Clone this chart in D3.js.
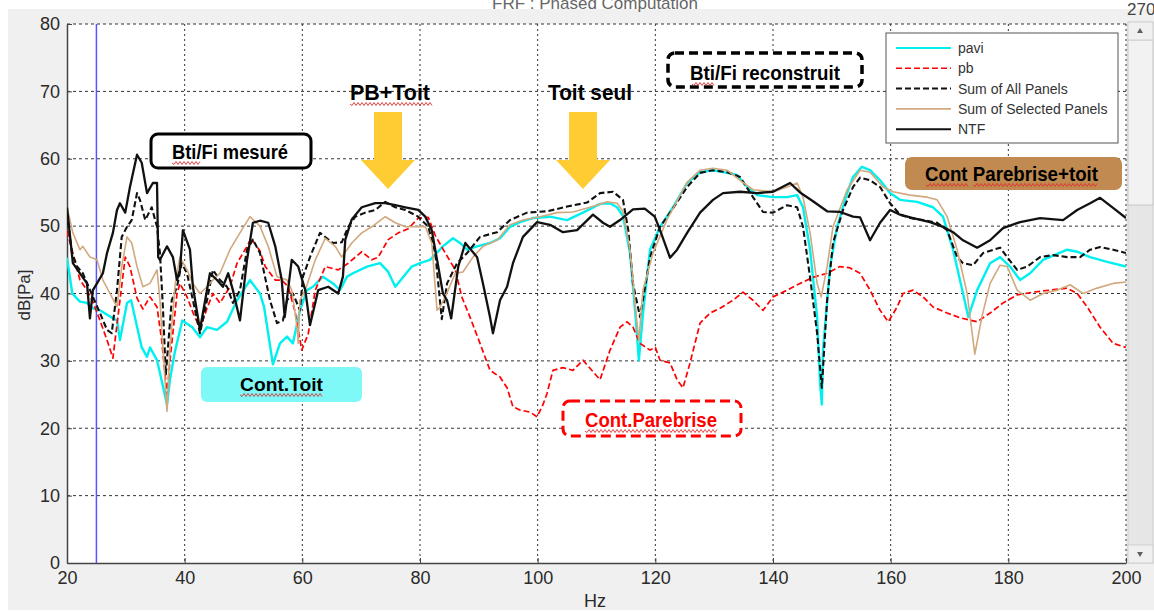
<!DOCTYPE html>
<html>
<head>
<meta charset="utf-8">
<script src="https://cdn.jsdelivr.net/npm/d3@7"></script>
<style>
  body { margin: 0; background: #fff; }
  svg { display: block; font-family: "Liberation Sans", Arial, sans-serif; }
</style>
</head>
<body>
<script>
// values, [Hz, dB]
const pavi = [[20,45.3],[20.9,40],[22.2,38.8],[23.4,38.6],[24.4,37.8],[25.6,37.5],[27.3,36.6],[28.5,36],[29,33.1],[30.2,38.6],[30.9,39],[32.7,32],[33.6,30.6],[34.1,32],[35.3,30.1],[35.8,28.2],[37,23.5],[37.5,27.2],[38.3,31.2],[39.6,36],[41.3,35],[42.6,33.5],[43.8,35],[45.5,34.6],[47.2,35.8],[48.9,39],[51.1,42],[52.8,40],[53.5,38],[55,29.5],[56.2,32.6],[57.4,33.6],[58.4,32.6],[59.6,37.5],[60.8,40.5],[61.8,41],[63.5,42.5],[65.2,41.5],[66.4,40.5],[67.6,42.5],[68.6,43],[71,44],[73.2,44.5],[74.6,43.2],[75.8,41],[77,42.3],[78.6,44],[80,44.5],[81.7,45],[83.9,47],[85.6,48.2],[86.8,47.5],[88,46.5],[89.7,47],[91.9,47.5],[93.6,48.2],[95.3,49.9],[97,50.6],[99.2,51.2],[102.1,51.4],[105,50.9],[107.7,52],[110.6,53.3],[112.3,53.4],[113.5,52.8],[114.5,51.5],[115.7,46],[116.6,37],[117.2,30.1],[117.9,37],[119.1,46.5],[120.8,49.9],[123,52.8],[125.4,56.4],[127.6,58],[129.8,58.3],[132.2,57.9],[133.9,57.6],[135.6,55.8],[137.3,54.6],[140,54.3],[142.4,54.3],[144.1,54.6],[145.1,52.8],[146.3,46.5],[147.5,36.5],[148,26.7],[148.3,23.5],[148.5,31.6],[149.7,44],[150.9,49.9],[152.6,54.9],[153.6,57.3],[155.1,58.8],[156.5,58.3],[158.2,56.8],[159.9,54.9],[161.6,53.9],[164.5,53.6],[167.2,52.8],[168.9,51.4],[170.6,46.5],[172.3,40],[173.2,36.5],[174.7,40.5],[176.9,44.5],[178.6,45.4],[180.3,44],[182,42],[183.7,43],[185.9,45],[190,46.5],[191.7,46.2],[193.9,45.4],[196.8,44.7],[200,44]];

const pb = [[20,49.3],[21,46],[22.2,42],[23.4,40.5],[24.4,38.8],[25.6,36],[26.8,33.1],[27.8,30.4],[29,39],[29.9,45.4],[30.7,44],[31.9,39.3],[32.9,37.7],[34.1,39.5],[35.3,38],[36.1,33],[37,25],[37.5,30],[38.7,40],[39.2,41.5],[40.4,39.5],[41.4,37.2],[42.6,34.8],[43.8,37.8],[44.8,40],[46,38.6],[47.7,41],[48.9,44.5],[50.6,47],[51.3,48.2],[52.8,46.3],[53.7,44],[55.4,42],[56.5,42],[57.6,41],[58.8,37.2],[59.9,31.6],[61,34],[62.2,40.5],[63.9,44],[66.1,43.5],[67.8,44.5],[70.1,46.2],[71.8,45],[72.9,45.4],[74.6,48],[76.3,49],[78,49.6],[79.7,51.2],[81.4,51.3],[82.6,48.6],[84.3,46],[86,43.5],[87.1,39.5],[88.5,36.5],[90.2,32.6],[91.9,28.6],[93.6,27.6],[94.8,26],[95.8,23.2],[97,22.7],[98.7,22.4],[99.9,21.7],[100.9,23.5],[101.6,25.2],[102.6,28.6],[104.3,29],[106,28.6],[107.7,30.1],[109.2,28.6],[110.6,27.2],[112.3,31.6],[114,35],[115.2,35.8],[116.2,35],[117.4,32.6],[119.1,31.6],[120,32],[120.8,30.1],[122.5,29.7],[123.7,27.2],[124.7,26],[125.9,29.7],[127.6,35.6],[129.3,37.1],[131,37.8],[133.2,39],[134.9,40.2],[136.6,39],[138.3,37.5],[140,39.5],[142.4,40.5],[144.6,41.5],[146.8,42.4],[149.2,43],[151.4,44],[153.1,43.8],[154.8,43],[156.5,40.5],[158.2,37.5],[159.6,35.8],[161.1,38],[162.1,40],[163.8,40.5],[165.5,39.5],[167.2,38],[169.6,37.1],[171.8,36.4],[174.7,35.8],[176.9,37.1],[179.1,38.6],[181.5,39.8],[184.2,40.2],[187.1,40.5],[190,40.8],[191.7,40],[193.4,38],[195.6,35],[197.8,32.6],[200,32]];

const sumAll = [[20,52],[20.85,46],[21.7,44],[22.7,43],[24.4,39.5],[25.6,37.1],[26.8,34.6],[27.6,34.1],[28.5,40.5],[29.3,48.4],[30.2,49.9],[31,50.9],[31.9,54.9],[32.4,53.9],[33.3,50.9],[34.4,52.8],[35.3,49.9],[35.8,46],[36.3,38],[36.8,28],[37.8,39],[38.7,41],[39.5,44.5],[40.4,43],[41.4,39],[42.6,34.1],[43.8,39],[44.8,43.5],[46,42],[47.2,41],[48.2,38.6],[49.4,40.5],[50.6,46.5],[51.6,48],[52.8,46],[54.5,39],[55.7,35.6],[56.7,36],[57.4,39],[58.4,40],[59.6,37.5],[60.1,42.5],[61.3,45.4],[63,49],[65.2,47.5],[66.7,47.6],[67.8,49.9],[69,51.4],[70.7,52],[72.4,52.4],[74.1,53.6],[75.8,52.8],[77.5,52.4],[79.7,51.4],[81.4,49.9],[82.6,46],[83.7,36.2],[84.6,41.5],[86.3,44.5],[88,46],[90.2,48.4],[93.1,49.1],[95.3,50.9],[98.2,52],[101.6,52.2],[105,52.9],[108.4,53.5],[110.6,54.9],[112.8,55.1],[114.5,53.9],[115.4,49.4],[116.2,41.5],[117.4,36.5],[119.1,45.4],[120.8,49.9],[122.5,52],[125.4,55.8],[127.6,57.9],[129.8,58.3],[132.2,58],[134.4,57.3],[136.6,54.3],[138.3,52.1],[140,52],[142.4,53.1],[144.1,52.8],[145.1,49.9],[146.3,42.4],[147.5,34.1],[148.3,26],[149.2,39],[150.2,47.5],[151.9,52.4],[153.6,55.8],[154.8,57.2],[156.5,56.8],[158.2,55.8],[159.9,53.4],[161.6,51.7],[163.3,51.2],[165.5,50.9],[167.9,50.5],[169.6,49.4],[171.3,45.4],[172.3,44.5],[174,44.2],[175.7,46],[178.6,46.8],[179.8,45.4],[181.5,43.5],[183.2,44],[185.4,45.4],[187.6,45.7],[190,45.4],[192.2,45.4],[193.9,46.5],[195.6,46.9],[197.8,46.5],[200,46]];

const sumSelected = [[20,52.8],[21,49],[22.2,46.5],[22.7,47],[23.9,45.4],[25.1,45],[26.1,42],[27.3,40],[28.5,38],[29.3,44],[30.2,48.4],[31,47.5],[31.9,44],[32.9,41],[34.1,41.5],[35.3,43.5],[35.8,39],[36.3,32],[37,22.5],[37.5,32],[38.4,41.5],[39.2,45.4],[40.4,43.5],[41.4,41.5],[42.6,40],[43.8,41],[44.8,42],[46,43],[47.7,46.5],[49.4,49],[51.1,51.4],[52.8,50],[54.2,47],[55.7,42.5],[57.4,42],[58.2,40.5],[59.1,35],[59.3,32.6],[59.6,39],[60.5,40.5],[62.2,45],[63.9,48.2],[65.6,47],[66.7,45.4],[68.4,47.5],[70.1,49],[71.8,49.9],[74.1,51.4],[75.8,50.5],[77.5,49.9],[80.9,49.9],[82,47.5],[82.9,37.5],[83.4,38],[84.3,39.5],[86,43],[87.3,43.2],[89,45.4],[90.7,47],[93.1,47.9],[95.3,50.2],[97.5,50.9],[100.4,51.4],[103.3,52],[106,52.1],[108.9,52.8],[111.8,53.6],[113.5,53.4],[114.5,52.2],[115.7,46.5],[116.6,38],[117.2,33],[117.9,40.5],[119.6,46],[122,51],[125.4,56.5],[127.6,58.3],[129.8,58.6],[132.2,58.3],[134.4,56.8],[136.6,55.4],[140,55.1],[142.4,55.8],[144.1,56.4],[145.1,54.3],[146.3,49],[147.5,41.5],[148.2,39.5],[149.2,44],[150.2,49.9],[152.6,55.4],[154.8,58.3],[156.5,58],[158.7,55.8],[160.4,55.1],[163.3,54.6],[166.2,54.3],[167.9,53.9],[169.6,51.4],[171.3,46.5],[173,40],[174.3,31],[175.5,36.5],[176.9,41.5],[178.6,44.2],[179.8,44],[181.5,40.5],[183.7,39],[185.9,40],[188.3,40.5],[190.5,41.3],[192.7,40],[195.1,40.8],[197.8,41.5],[200,41.7]];

const ntf = [[20,52.8],[21,44.5],[22.2,43],[23.4,41.5],[23.9,36.3],[24.4,40.5],[25.1,41.5],[26.1,43],[26.8,46],[27.8,49],[28.5,52.4],[29,53.4],[29.9,52],[30.7,55.8],[31.9,60.6],[32.7,59.4],[33.6,54.9],[34.6,56.4],[35.3,56.4],[35.5,45.4],[35.8,45],[37,47],[38,45.4],[38.7,42],[39.2,43.5],[39.7,49.4],[40.9,46.5],[41.4,41],[42.6,34.6],[43.1,37.1],[44.3,43],[45.5,42],[46.5,41],[47.4,43],[48.2,40.5],[49.4,36],[50.6,45],[51.6,50.5],[52.8,50.8],[54.2,50.5],[55.4,47],[56.5,42],[57,36.5],[58.2,45],[59.3,44],[60.5,40.5],[61.3,35.3],[62.7,40.5],[64.4,41],[66.1,40],[66.9,42.5],[67.3,48],[68.4,51],[70.1,52.8],[72.4,53.4],[74.1,53.4],[75.8,53.1],[77.5,52.8],[79.7,52.4],[80.9,51.4],[82,49.4],[83.1,44],[83.9,40],[84.6,39],[85.3,36.3],[86.5,44],[87.7,47.5],[89.7,45.4],[90.7,41.5],[91.9,36.5],[92.4,34.1],[93.6,39],[94.8,41],[95.8,44.5],[97.5,48.4],[99.9,50.6],[102.1,50.2],[104.3,49.1],[106.7,49.4],[109.4,51.7],[111.1,50.5],[112.3,49.9],[114,50.9],[116.2,52.5],[118.2,52.6],[119.9,51.4],[120.8,49.4],[122,46.5],[122.5,45.3],[123.7,46.5],[125.4,49],[127.6,52],[129.8,53.9],[131.5,54.9],[134.4,55.1],[137.3,54.9],[140,55.1],[142.9,56.4],[144.6,55],[146.8,53.7],[149.2,52.2],[151.4,52.1],[153.6,51.4],[154.8,51.3],[156.5,47.9],[158.2,50.5],[159.9,52.4],[161.6,51.7],[163.8,51.2],[166.7,50.6],[168.9,49.9],[170.6,49.1],[172.3,47.9],[174.7,46.8],[176.9,47.9],[179.1,49.7],[182,50.6],[185.4,51.2],[189.3,50.9],[191.7,52.4],[193.9,53.4],[195.6,54.2],[197.8,52.7],[200,51.2]];

const seriesNames = ['pavi', 'pb', 'Sum of All Panels', 'Sum of Selected Panels', 'NTF'];
const xTicks = [20, 40, 60, 80, 100, 120, 140, 160, 180, 200];
const yTicks = [0, 10, 20, 30, 40, 50, 60, 70, 80];
const markerHz = 25;

const W = 1154, H = 612;
const m = { left: 67, right: 1126, top: 24, bottom: 563 };

const svg = d3.select('body').append('svg')
  .attr('width', W)
  .attr('height', H);

// figure background
svg.append('rect').attr('x', 8).attr('y', 9).attr('width', W - 8).attr('height', 601).attr('fill', '#f0f0f0');

// title, mostly scrolled out of view, and the "270" at the top right
svg.append('text').attr('x', 595).attr('y', 9).attr('text-anchor', 'middle')
  .attr('font-size', 17).attr('fill', '#666').text('FRF : Phased Computation');
svg.append('text').attr('x', 1127).attr('y', 15)
  .attr('font-size', 17).attr('fill', '#444').text('270');

const x = d3.scaleLinear().domain([20, 200]).range([m.left, m.right]);
const y = d3.scaleLinear().domain([0, 80]).range([m.bottom, m.top]);

svg.append('rect')
  .attr('x', m.left).attr('y', m.top)
  .attr('width', m.right - m.left).attr('height', m.bottom - m.top)
  .attr('fill', '#fff');

// grid
svg.append('g').selectAll('line')
  .data(yTicks.filter(d => d > 0))
  .enter().append('line')
    .attr('x1', m.left).attr('x2', m.right)
    .attr('y1', d => y(d)).attr('y2', d => y(d))
    .attr('stroke', '#333').attr('stroke-width', 1)
    .attr('stroke-dasharray', '3,3');

svg.append('g').selectAll('line')
  .data(xTicks.filter(d => d > 20))
  .enter().append('line')
    .attr('x1', d => x(d)).attr('x2', d => x(d))
    .attr('y1', m.top).attr('y2', m.bottom)
    .attr('stroke', '#333').attr('stroke-width', 1)
    .attr('stroke-dasharray', '2,3');

// axes
const xAxis = svg.append('g')
  .attr('transform', `translate(0,${m.bottom})`)
  .call(d3.axisBottom(x).tickValues(xTicks).tickSize(-5).tickSizeOuter(0).tickPadding(8));
const yAxis = svg.append('g')
  .attr('transform', `translate(${m.left},0)`)
  .call(d3.axisLeft(y).tickValues(yTicks).tickSize(-5).tickSizeOuter(0).tickPadding(7));

[xAxis, yAxis].forEach(a => {
  a.selectAll('.domain').attr('stroke', '#444').attr('stroke-width', 1.5);
  a.selectAll('.tick line').attr('stroke', '#444');
  a.selectAll('text').attr('font-size', 18).attr('fill', '#2a2a2a')
    .attr('font-family', '"Liberation Sans", Arial, sans-serif');
});

svg.append('text')
  .attr('x', 595).attr('y', 607).attr('text-anchor', 'middle')
  .attr('font-size', 18).attr('fill', '#2a2a2a').text('Hz');
svg.append('text')
  .attr('transform', 'translate(30,295) rotate(-90)')
  .attr('text-anchor', 'middle')
  .attr('font-size', 17).attr('fill', '#2a2a2a').text('dB[Pa]');

// clip
svg.append('clipPath').attr('id', 'plotClip')
  .append('rect').attr('x', m.left).attr('y', m.top)
  .attr('width', m.right - m.left).attr('height', m.bottom - m.top);

const plot = svg.append('g').attr('clip-path', 'url(#plotClip)');

// blue marker line
plot.append('line')
  .attr('x1', x(markerHz)).attr('x2', x(markerHz))
  .attr('y1', m.top).attr('y2', m.bottom)
  .attr('stroke', '#5555ff').attr('stroke-width', 1.5);

const line = d3.line()
  .x(d => x(d[0]))
  .y(d => y(d[1]));

const series = [
  { name: seriesNames[0], data: pavi, color: '#00f0f0', width: 2.4, dash: null },
  { name: seriesNames[1], data: pb, color: '#ff0000', width: 1.7, dash: '6,3' },
  { name: seriesNames[2], data: sumAll, color: '#111', width: 2.1, dash: '6,3' },
  { name: seriesNames[3], data: sumSelected, color: '#d2a87e', width: 1.6, dash: null },
  { name: seriesNames[4], data: ntf, color: '#111', width: 2.3, dash: null }
];

plot.selectAll('.series')
  .data(series)
  .enter()
  .append('path')
    .attr('class', 'series')
    .attr('d', d => line(d.data))
    .attr('fill', 'none')
    .attr('stroke', d => d.color)
    .attr('stroke-width', d => d.width)
    .attr('stroke-dasharray', d => d.dash)
    .attr('stroke-linejoin', 'round');

// legend
const lg = svg.append('g');
lg.append('rect')
  .attr('x', 886).attr('y', 33).attr('width', 232).attr('height', 110)
  .attr('fill', '#fff').attr('stroke', '#555').attr('stroke-width', 1);
series.forEach((s, i) => {
  const ly = 48 + i * 20.3;
  lg.append('line')
    .attr('x1', 896).attr('x2', 951).attr('y1', ly).attr('y2', ly)
    .attr('stroke', s.color).attr('stroke-width', s.width > 2 ? 2 : 1.6)
    .attr('stroke-dasharray', s.dash);
  lg.append('text')
    .attr('x', 958).attr('y', ly + 5)
    .attr('font-size', 14).attr('fill', '#333')
    .text(s.name);
});

// annotations
function wavy(x1, x2, yy) {
  let p = `M${x1},${yy}`;
  for (let k = x1 + 2; k <= x2; k += 2) {
    p += `L${k},${yy + ((k - x1) / 2 % 2 ? 1.5 : -1.5)}`;
  }
  return p;
}
function squiggle(x1, x2, yy) {
  svg.append('path').attr('d', wavy(x1, x2, yy))
    .attr('fill', 'none').attr('stroke', '#e03030').attr('stroke-width', 0.9);
}
function box(x0, y0, w, h, opts) {
  svg.append('rect')
    .attr('x', x0).attr('y', y0).attr('width', w).attr('height', h)
    .attr('rx', opts.rx || 6)
    .attr('fill', opts.fill || '#fff')
    .attr('stroke', opts.stroke || 'none')
    .attr('stroke-width', opts.sw || 0)
    .attr('stroke-dasharray', opts.dash || null);
}
function label(x0, base, txt, size, len, color) {
  svg.append('text')
    .attr('x', x0).attr('y', base)
    .attr('font-size', size).attr('font-weight', 'bold')
    .attr('textLength', len).attr('lengthAdjust', 'spacingAndGlyphs')
    .attr('fill', color || '#000').text(txt);
}
function arrow(cx, top) {
  const pts = [[cx - 14, top], [cx + 14, top], [cx + 14, top + 48], [cx + 27, top + 48],
               [cx, top + 77], [cx - 27, top + 48], [cx - 14, top + 48]];
  svg.append('polygon').attr('points', pts.map(p => p.join(',')).join(' '))
    .attr('fill', '#ffcc33');
}

box(151, 134, 160, 34, { stroke: '#000', sw: 3, rx: 7 });
label(172, 159, 'Bti/Fi mesuré', 21, 116);
squiggle(172, 200, 163);

label(350, 100, 'PB+Toit', 22, 80);
squiggle(350, 432, 104);
arrow(388, 112);

label(548, 100, 'Toit seul', 22, 84);
arrow(583, 112);

box(668, 53, 194, 34, { stroke: '#000', sw: 3.5, rx: 7, dash: '9,5' });
label(690, 80, 'Bti/Fi reconstruit', 21, 150);
squiggle(692, 715, 84);

box(905, 157, 217, 33, { fill: '#c08a50', rx: 7 });
label(925, 181, 'Cont Parebrise+toit', 21, 173);
squiggle(926, 968, 185);
squiggle(973, 1097, 185);

box(201, 367, 161, 35, { fill: '#7ff8f8', rx: 6 });
label(240, 391, 'Cont.Toit', 19, 83);
squiggle(240, 322, 395);

box(563, 401, 178, 35, { stroke: '#ff0000', sw: 3, rx: 7, dash: '10,5' });
label(585, 427, 'Cont.Parebrise', 20, 132, '#ff0000');
squiggle(585, 718, 431);

// scrollbar on the right
const sb = svg.append('g');
sb.append('rect').attr('x', 1128).attr('y', 22).attr('width', 25).attr('height', 541)
  .attr('fill', '#e6e6e6').attr('stroke', '#cfcfcf');
sb.append('rect').attr('x', 1128).attr('y', 40).attr('width', 25).attr('height', 165)
  .attr('fill', '#f2f2f2').attr('stroke', '#c8c8c8');
sb.append('rect').attr('x', 1128).attr('y', 22).attr('width', 25).attr('height', 18)
  .attr('fill', '#f0f0f0').attr('stroke', '#d0d0d0');
sb.append('rect').attr('x', 1128).attr('y', 545).attr('width', 25).attr('height', 18)
  .attr('fill', '#f0f0f0').attr('stroke', '#d0d0d0');
sb.append('polygon').attr('points', '1137,33 1143,33 1140,28').attr('fill', '#606060');
sb.append('polygon').attr('points', '1137,552 1143,552 1140,557').attr('fill', '#606060');
</script>
</body>
</html>
